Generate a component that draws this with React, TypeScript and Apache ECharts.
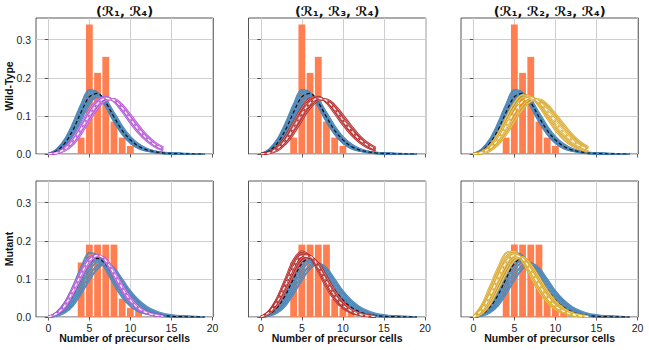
import React, { useEffect, useRef } from 'react';
import * as echarts from 'echarts';

// ---------- data ----------
const xFull = [0, 1, 2, 3, 4, 5, 6, 7, 8, 9, 10, 11, 12, 13, 14, 15, 16, 17, 18, 19];
const xShort = [0, 1, 2, 3, 4, 5, 6, 7, 8, 9, 10, 11, 12, 13, 14];

const wtBins = [4, 5, 6, 7, 8, 9, 10];
const wtFreq = [0.043, 0.34, 0.213, 0.255, 0.085, 0.043, 0.021];
const mutBins = [4, 5, 6, 7, 8, 9, 10, 11];
const mutFreq = [0.143, 0.19, 0.19, 0.19, 0.19, 0.048, 0.024, 0.024];

const xTicks = [0, 5, 10, 15, 20];
const yTicks = [0, 0.1, 0.2, 0.3];
const titles = ['(ℛ₁, ℛ₄)', '(ℛ₁, ℛ₃, ℛ₄)', '(ℛ₁, ℛ₂, ℛ₃, ℛ₄)'];
const rowNames = ['Wild-Type', 'Mutant'];
const xName = 'Number of precursor cells';

// Wild-type: blue ensemble (shared by the top row)
const topBlue = [
  [0, 0.012, 0.038, 0.080, 0.130, 0.168, 0.160, 0.125, 0.085, 0.052, 0.029, 0.015, 0.008, 0.004, 0.002, 0.001, 0.0005, 0, 0, 0],
  [0, 0.010, 0.034, 0.073, 0.122, 0.162, 0.160, 0.129, 0.089, 0.056, 0.032, 0.017, 0.009, 0.005, 0.002, 0.001, 0.0005, 0, 0, 0],
  [0, 0.009, 0.030, 0.067, 0.114, 0.155, 0.159, 0.133, 0.094, 0.060, 0.035, 0.019, 0.010, 0.005, 0.003, 0.001, 0.0005, 0, 0, 0],
  [0, 0.007, 0.026, 0.060, 0.106, 0.148, 0.157, 0.136, 0.099, 0.064, 0.038, 0.021, 0.011, 0.006, 0.003, 0.0015, 0.0007, 0, 0, 0],
  [0, 0.006, 0.022, 0.053, 0.097, 0.139, 0.154, 0.139, 0.104, 0.069, 0.042, 0.024, 0.013, 0.007, 0.003, 0.002, 0.001, 0, 0, 0],
  [0, 0.005, 0.019, 0.047, 0.089, 0.131, 0.151, 0.141, 0.108, 0.073, 0.045, 0.026, 0.014, 0.007, 0.004, 0.002, 0.001, 0.0005, 0, 0],
];
const topBlueMean = [0, 0.008, 0.028, 0.063, 0.110, 0.150, 0.159, 0.135, 0.097, 0.062, 0.037, 0.020, 0.011, 0.006, 0.003, 0.0015, 0.0007, 0.0003, 0, 0];

// Mutant: blue ensemble (shared by the bottom row)
const botBlue = [
  [0, 0.012, 0.038, 0.080, 0.130, 0.168, 0.160, 0.125, 0.085, 0.052, 0.029, 0.015, 0.008, 0.004, 0.002, 0.001, 0.0005, 0, 0, 0],
  [0, 0.010, 0.032, 0.070, 0.118, 0.157, 0.158, 0.131, 0.094, 0.060, 0.036, 0.020, 0.010, 0.005, 0.003, 0.001, 0.0006, 0.0003, 0, 0],
  [0, 0.008, 0.027, 0.061, 0.106, 0.145, 0.155, 0.136, 0.102, 0.068, 0.042, 0.024, 0.013, 0.007, 0.004, 0.002, 0.001, 0.0004, 0.0002, 0],
  [0, 0.006, 0.022, 0.052, 0.094, 0.133, 0.150, 0.140, 0.110, 0.076, 0.048, 0.029, 0.016, 0.009, 0.005, 0.002, 0.001, 0.0005, 0.0002, 0],
  [0, 0.005, 0.018, 0.044, 0.083, 0.121, 0.144, 0.141, 0.117, 0.084, 0.055, 0.034, 0.020, 0.011, 0.006, 0.003, 0.0015, 0.0007, 0.0003, 0],
  [0, 0.004, 0.014, 0.037, 0.072, 0.109, 0.136, 0.141, 0.123, 0.092, 0.062, 0.039, 0.023, 0.013, 0.007, 0.004, 0.002, 0.001, 0.0004, 0],
  [0, 0.003, 0.011, 0.030, 0.062, 0.097, 0.127, 0.139, 0.128, 0.099, 0.068, 0.044, 0.027, 0.016, 0.009, 0.005, 0.0025, 0.0012, 0.0005, 0],
];
const botBlueMean = [0, 0.007, 0.025, 0.057, 0.101, 0.140, 0.154, 0.138, 0.106, 0.072, 0.045, 0.026, 0.014, 0.007, 0.004, 0.002, 0.001, 0.0004, 0.0002, 0];

// Wild-type model ensembles
const topPurple = [
  [0, 0.004, 0.017, 0.042, 0.078, 0.115, 0.142, 0.150, 0.138, 0.112, 0.082, 0.055, 0.034, 0.019, 0.010],
  [0, 0.003, 0.014, 0.036, 0.070, 0.107, 0.136, 0.148, 0.141, 0.118, 0.089, 0.061, 0.039, 0.023, 0.012],
  [0, 0.002, 0.011, 0.030, 0.061, 0.097, 0.128, 0.145, 0.143, 0.124, 0.096, 0.068, 0.044, 0.026, 0.014],
  [0, 0.002, 0.009, 0.025, 0.053, 0.088, 0.120, 0.140, 0.144, 0.129, 0.103, 0.075, 0.049, 0.030, 0.017],
];
const topPurpleMean = [0, 0.003, 0.013, 0.033, 0.066, 0.102, 0.132, 0.146, 0.141, 0.121, 0.092, 0.064, 0.041, 0.024, 0.013];

const topRed = [
  [0, 0.005, 0.019, 0.046, 0.084, 0.121, 0.146, 0.150, 0.135, 0.107, 0.077, 0.051, 0.031, 0.017, 0.009],
  [0, 0.004, 0.015, 0.038, 0.073, 0.110, 0.138, 0.148, 0.139, 0.115, 0.086, 0.058, 0.036, 0.021, 0.011],
  [0, 0.003, 0.012, 0.032, 0.064, 0.100, 0.130, 0.145, 0.142, 0.121, 0.093, 0.065, 0.042, 0.025, 0.013],
  [0, 0.002, 0.009, 0.026, 0.054, 0.089, 0.121, 0.140, 0.143, 0.128, 0.102, 0.074, 0.048, 0.029, 0.016],
];
const topRedMean = [0, 0.003, 0.014, 0.035, 0.069, 0.105, 0.134, 0.146, 0.140, 0.118, 0.089, 0.062, 0.039, 0.023, 0.012];

const topGold = [
  [0, 0.006, 0.022, 0.053, 0.095, 0.134, 0.155, 0.150, 0.126, 0.094, 0.063, 0.039, 0.022, 0.012, 0.006],
  [0, 0.005, 0.018, 0.045, 0.084, 0.123, 0.148, 0.150, 0.132, 0.103, 0.073, 0.047, 0.028, 0.016, 0.008],
  [0, 0.003, 0.014, 0.037, 0.072, 0.110, 0.139, 0.148, 0.138, 0.113, 0.084, 0.057, 0.036, 0.021, 0.011],
  [0, 0.002, 0.010, 0.029, 0.060, 0.096, 0.127, 0.143, 0.142, 0.123, 0.096, 0.068, 0.044, 0.027, 0.015],
  [0, 0.002, 0.008, 0.024, 0.051, 0.085, 0.117, 0.138, 0.143, 0.130, 0.105, 0.078, 0.052, 0.032, 0.018],
];
const topGoldMean = [0, 0.004, 0.015, 0.038, 0.073, 0.110, 0.138, 0.147, 0.137, 0.113, 0.084, 0.057, 0.036, 0.021, 0.011];

// Mutant model ensembles
const botPurple = [
  [0, 0.011, 0.036, 0.077, 0.121, 0.155, 0.162, 0.143, 0.106, 0.068, 0.038, 0.019, 0.009, 0.004, 0.002],
  [0, 0.009, 0.032, 0.071, 0.115, 0.150, 0.162, 0.147, 0.112, 0.073, 0.042, 0.022, 0.010, 0.005, 0.002],
  [0, 0.008, 0.028, 0.065, 0.109, 0.146, 0.161, 0.150, 0.117, 0.079, 0.046, 0.024, 0.012, 0.005, 0.002],
  [0, 0.007, 0.025, 0.060, 0.103, 0.141, 0.160, 0.152, 0.122, 0.084, 0.051, 0.027, 0.013, 0.006, 0.003],
];
const botPurpleMean = [0, 0.009, 0.030, 0.068, 0.112, 0.148, 0.162, 0.148, 0.114, 0.076, 0.044, 0.023, 0.011, 0.005, 0.002];

const botRed = [
  [0, 0.016, 0.050, 0.100, 0.150, 0.172, 0.158, 0.120, 0.078, 0.045, 0.023, 0.011, 0.005, 0.002, 0.001],
  [0, 0.014, 0.045, 0.092, 0.140, 0.166, 0.159, 0.127, 0.086, 0.051, 0.027, 0.013, 0.006, 0.003, 0.001],
  [0, 0.012, 0.040, 0.084, 0.131, 0.161, 0.160, 0.133, 0.093, 0.057, 0.031, 0.015, 0.007, 0.003, 0.001],
  [0, 0.010, 0.035, 0.076, 0.121, 0.155, 0.159, 0.138, 0.100, 0.063, 0.035, 0.018, 0.009, 0.004, 0.002],
  [0, 0.008, 0.030, 0.068, 0.111, 0.147, 0.156, 0.141, 0.106, 0.069, 0.040, 0.021, 0.010, 0.005, 0.002],
];
const botRedMean = [0, 0.012, 0.040, 0.084, 0.131, 0.160, 0.159, 0.132, 0.093, 0.057, 0.031, 0.016, 0.007, 0.003, 0.001];

const botGold = [
  [0, 0.030, 0.078, 0.128, 0.168, 0.172, 0.145, 0.105, 0.067, 0.038, 0.020, 0.010, 0.004, 0.002, 0.001],
  [0, 0.024, 0.068, 0.117, 0.158, 0.168, 0.150, 0.113, 0.075, 0.044, 0.024, 0.012, 0.005, 0.002, 0.001],
  [0, 0.019, 0.059, 0.106, 0.148, 0.164, 0.153, 0.120, 0.083, 0.050, 0.028, 0.014, 0.007, 0.003, 0.001],
  [0, 0.015, 0.050, 0.095, 0.137, 0.160, 0.156, 0.127, 0.090, 0.057, 0.032, 0.017, 0.008, 0.004, 0.002],
  [0, 0.011, 0.041, 0.084, 0.126, 0.155, 0.157, 0.133, 0.098, 0.064, 0.037, 0.020, 0.010, 0.004, 0.002],
  [0, 0.008, 0.032, 0.072, 0.114, 0.148, 0.157, 0.138, 0.105, 0.070, 0.042, 0.023, 0.011, 0.005, 0.002],
];
const botGoldMean = [0, 0.017, 0.055, 0.101, 0.143, 0.162, 0.153, 0.122, 0.085, 0.052, 0.029, 0.015, 0.007, 0.003, 0.001];

// ---------- styling / layout ----------
const BAR = '#ff7f50';
const BLUE = '#3e7db3';
const PURPLE = '#b552d6';
const RED = '#b22222';
const GOLD = '#d9a520';
const FONT = 'Liberation Sans, Arial, sans-serif';

const colLeft = [36, 248.5, 461];
const rowTop = [18, 181];
const gridW = 177.3;
const gridH = 136;

type Panel = {
  bins: number[];
  freq: number[];
  blue: number[][];
  blueMean: number[];
  model: number[][];
  modelMean: number[];
  color: string;
};

const panels: Panel[] = [
  { bins: wtBins, freq: wtFreq, blue: topBlue, blueMean: topBlueMean, model: topPurple, modelMean: topPurpleMean, color: PURPLE },
  { bins: wtBins, freq: wtFreq, blue: topBlue, blueMean: topBlueMean, model: topRed, modelMean: topRedMean, color: RED },
  { bins: wtBins, freq: wtFreq, blue: topBlue, blueMean: topBlueMean, model: topGold, modelMean: topGoldMean, color: GOLD },
  { bins: mutBins, freq: mutFreq, blue: botBlue, blueMean: botBlueMean, model: botPurple, modelMean: botPurpleMean, color: PURPLE },
  { bins: mutBins, freq: mutFreq, blue: botBlue, blueMean: botBlueMean, model: botRed, modelMean: botRedMean, color: RED },
  { bins: mutBins, freq: mutFreq, blue: botBlue, blueMean: botBlueMean, model: botGold, modelMean: botGoldMean, color: GOLD },
];

const toPairs = (xs: number[], ys: number[]) => ys.map((y, i) => [xs[i], y]);

function lineSeries(gi: number, data: number[][], color: string, width: number, type: any = 'solid', opacity = 1) {
  return {
    type: 'line',
    xAxisIndex: gi,
    yAxisIndex: gi,
    data,
    symbol: 'none',
    showSymbol: false,
    smooth: 0.35,
    silent: true,
    lineStyle: { color, width, type, opacity },
  };
}

function buildOption() {
  const grid: any[] = [];
  const xAxis: any[] = [];
  const yAxis: any[] = [];
  const series: any[] = [];
  const graphic: any[] = [];

  panels.forEach((p, gi) => {
    const row = Math.floor(gi / 3);
    const col = gi % 3;
    grid.push({
      left: colLeft[col],
      top: rowTop[row],
      width: gridW,
      height: gridH,
      show: true,
      borderColor: '#2b2b2b',
      borderWidth: 0.8,
      backgroundColor: 'transparent',
    });
    xAxis.push({
      gridIndex: gi,
      type: 'value',
      min: -1.5,
      max: 20.1,
      axisLine: { show: false },
      axisTick: { show: true, inside: false, length: 3.5, customValues: xTicks, lineStyle: { color: '#333', width: 0.8 } },
      axisLabel: {
        show: row === 1,
        customValues: xTicks,
        fontSize: 10.5,
        fontFamily: FONT,
        color: '#222',
        margin: 5,
      },
      splitLine: { show: true, lineStyle: { color: '#cfcfcf', width: 1 } },
    });
    yAxis.push({
      gridIndex: gi,
      type: 'value',
      min: 0,
      max: 0.357,
      axisLine: { show: false },
      axisTick: { show: true, inside: false, length: 3.5, customValues: yTicks, lineStyle: { color: '#333', width: 0.8 } },
      axisLabel: {
        show: col === 0,
        customValues: yTicks,
        formatter: (v: number) => v.toFixed(1),
        fontSize: 10.5,
        fontFamily: FONT,
        color: '#222',
        margin: 5,
      },
      splitLine: { show: true, lineStyle: { color: '#cfcfcf', width: 1 } },
    });

    // histogram
    series.push({
      type: 'bar',
      xAxisIndex: gi,
      yAxisIndex: gi,
      data: toPairs(p.bins, p.freq),
      barWidth: 6.8,
      silent: true,
      itemStyle: { color: BAR },
    });
    // blue ensemble
    p.blue.forEach((ys) => {
      const d = toPairs(xFull, ys);
      series.push(lineSeries(gi, d, BLUE, 1.9));
      series.push(lineSeries(gi, d, '#ffffff', 0.4, 'solid', 0.55));
    });
    series.push(lineSeries(gi, toPairs(xFull, p.blueMean), '#111111', 1.2, [3.5, 2.5]));
    // model ensemble
    p.model.forEach((ys) => {
      const d = toPairs(xShort, ys);
      series.push(lineSeries(gi, d, p.color, 2.1));
      series.push(lineSeries(gi, d, '#ffffff', 0.6, 'solid', 0.7));
    });
    series.push(lineSeries(gi, toPairs(xShort, p.modelMean), '#ffffff', 1.2, [3.5, 2.5]));
  });

  const centers = colLeft.map((l) => l + gridW / 2);
  titles.forEach((t, i) => {
    graphic.push({
      type: 'text',
      x: centers[i],
      y: 11,
      silent: true,
      style: {
        text: t,
        textAlign: 'center',
        textVerticalAlign: 'middle',
        fontSize: 13,
        fontWeight: 'bold',
        fontFamily: 'DejaVu Sans, sans-serif',
        fill: '#111',
      },
    });
    graphic.push({
      type: 'text',
      x: centers[i],
      y: 338,
      silent: true,
      style: {
        text: xName,
        textAlign: 'center',
        textVerticalAlign: 'middle',
        fontSize: 10.5,
        fontWeight: 'bold',
        fontFamily: FONT,
        fill: '#111',
      },
    });
  });
  rowNames.forEach((n, r) => {
    graphic.push({
      type: 'text',
      x: 9,
      y: rowTop[r] + gridH / 2,
      rotation: Math.PI / 2,
      silent: true,
      style: {
        text: n,
        textAlign: 'center',
        textVerticalAlign: 'middle',
        fontSize: 10.5,
        fontWeight: 'bold',
        fontFamily: FONT,
        fill: '#111',
      },
    });
  });

  return {
    animation: false,
    backgroundColor: '#ffffff',
    grid,
    xAxis,
    yAxis,
    series,
    graphic,
  };
}

export default function App() {
  const ref = useRef<HTMLDivElement>(null);
  useEffect(() => {
    document.body.style.margin = '0';
    if (!ref.current) return;
    const chart = echarts.init(ref.current, undefined, { renderer: 'svg' });
    chart.setOption(buildOption() as any);
    return () => {
      chart.dispose();
    };
  }, []);
  return <div ref={ref} style={{ width: 649, height: 350 }} />;
}
